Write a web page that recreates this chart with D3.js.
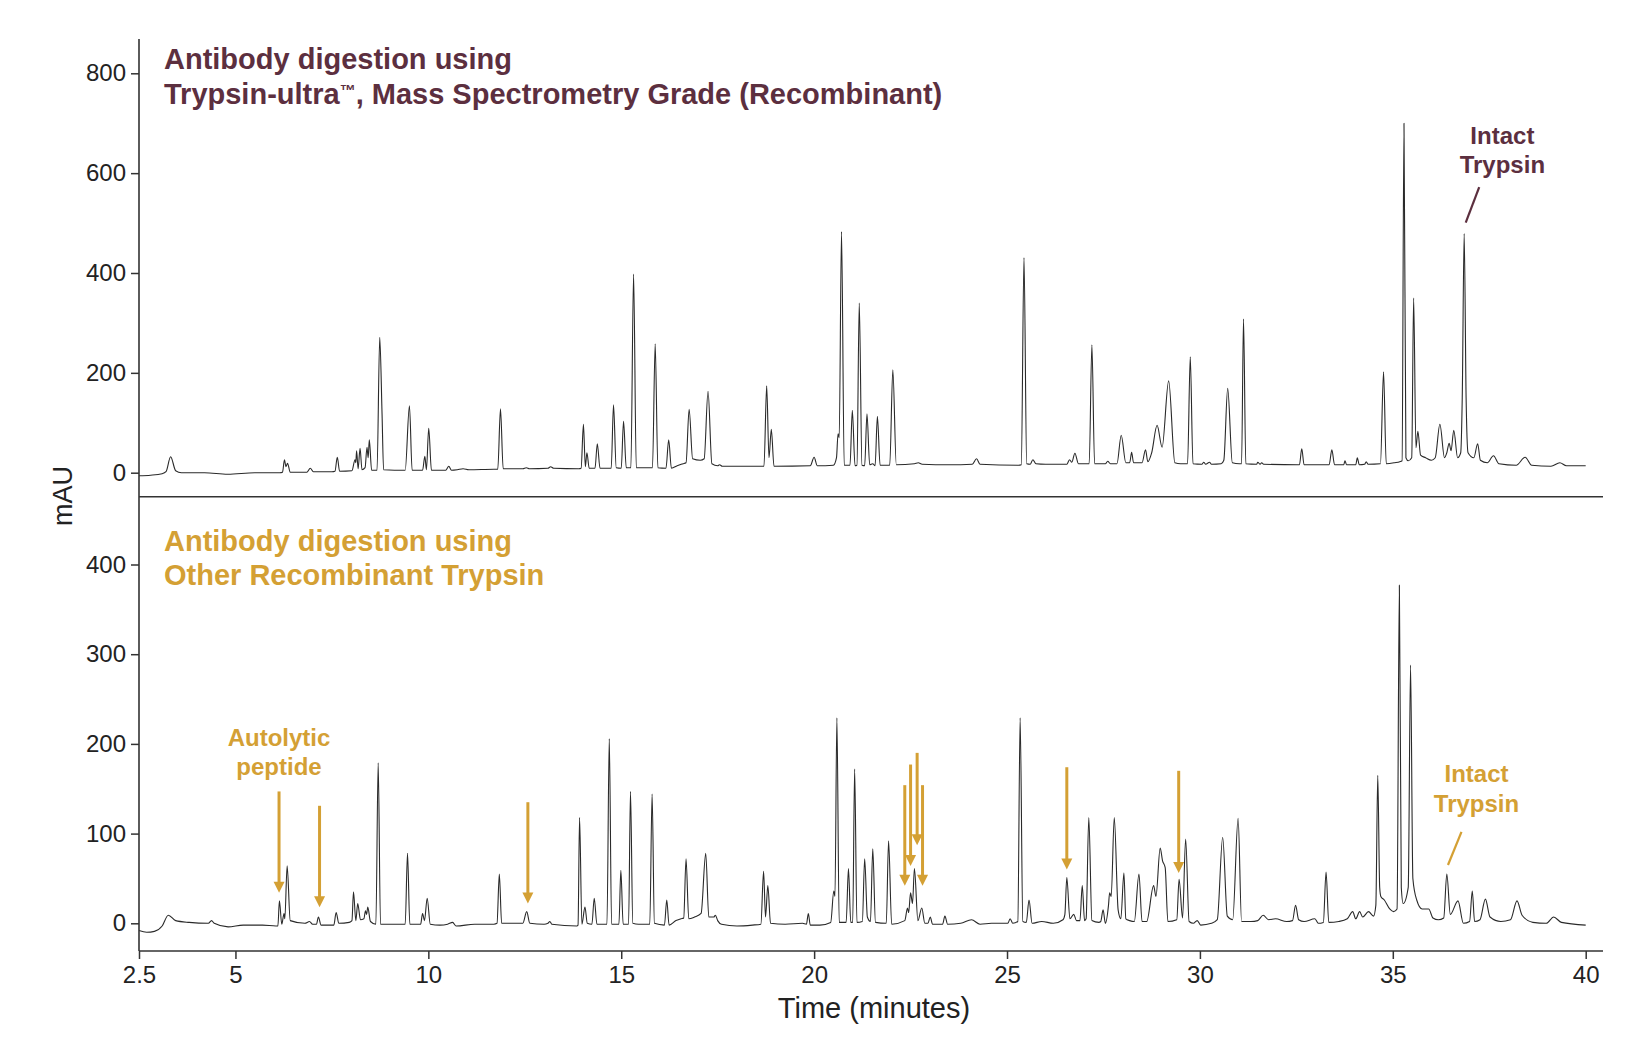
<!DOCTYPE html>
<html>
<head>
<meta charset="utf-8">
<script src="https://cdn.jsdelivr.net/npm/d3@7"></script>
<style>
  body { margin: 0; background: #fff; }
  svg text { font-family: "Liberation Sans", Arial, Helvetica, sans-serif; }
</style>
</head>
<body>
<div id="chart"></div>
<script>
// 刻度
const X_TICKS = [2.5, 5, 10, 15, 20, 25, 30, 35, 40];
const TOP_TICKS = [0, 200, 400, 600, 800];
const BOTTOM_TICKS = [0, 100, 200, 300, 400];

// Trypsin-ultra 色谱 [时间(min), mAU]
const TOP_TRACE = [
  [2.50,-6],[2.80,-5],[3.10,-2],[3.20,2],[3.32,32],[3.45,4],[3.60,0],[4.20,0],[4.80,-3],[5.50,0],[6.15,0],
  [6.22,1],[6.27,26],[6.31,12],[6.35,19],[6.42,1],[6.85,1],[6.94,9],[7.02,2],[7.50,2],
  [7.58,3],[7.64,31],[7.70,3],[8.02,4],[8.10,26],[8.12,20],[8.14,44],[8.18,8],[8.23,49],[8.28,6],
  [8.36,10],[8.41,51],[8.44,30],[8.47,66],[8.53,5],[8.67,5],[8.74,271],[8.80,118],[8.84,6],
  [9.40,5],[9.51,134],[9.58,5],[9.85,5],[9.91,33],[9.95,6],[10.01,89],[10.08,5],
  [10.45,5],[10.53,13],[10.60,5],[10.75,6],[10.90,8],[11.05,6],[11.70,7],
  [11.80,7],[11.87,128],[11.94,8],[12.45,8],[12.54,10],[12.62,8],[13.10,9],[13.17,12],[13.25,9],[13.90,8],
  [13.96,9],[14.02,97],[14.07,12],[14.11,40],[14.17,9],[14.32,9],[14.38,58],[14.45,9],
  [14.74,9],[14.80,136],[14.87,10],[15.00,9],[15.06,103],[15.13,10],[15.25,10],[15.32,398],[15.39,10],
  [15.81,10],[15.88,258],[15.95,10],[16.16,9],[16.23,66],[16.30,9],[16.45,14],[16.60,18],
  [16.68,20],[16.76,127],[16.85,28],[17.05,25],[17.15,28],[17.25,163],[17.35,18],[17.50,14],[17.55,16],[17.62,13],[18.60,13],
  [18.70,13],[18.77,174],[18.83,30],[18.89,87],[18.96,13],[19.90,14],[20.00,31],[20.08,14],[20.50,15],
  [20.58,30],[20.62,78],[20.65,70],[20.71,483],[20.78,15],[20.93,15],[20.99,125],[21.06,14],
  [21.11,15],[21.17,340],[21.24,15],[21.31,14],[21.37,118],[21.44,16],[21.52,18],[21.58,14],[21.64,113],[21.71,15],
  [21.96,15],[22.04,206],[22.13,16],[22.60,18],[22.70,20],[22.80,17],[23.50,16],[24.10,17],[24.21,28],[24.30,17],[25.30,15],
  [25.37,16],[25.44,431],[25.51,18],[25.60,17],[25.67,26],[25.75,18],[26.00,17],[26.55,17],[26.62,26],[26.68,21],[26.76,39],[26.85,18],
  [27.13,18],[27.20,256],[27.27,18],[27.55,18],[27.61,23],[27.68,18],[27.85,18],[27.96,75],[28.08,20],
  [28.18,20],[28.23,41],[28.28,20],[28.50,20],[28.59,46],[28.65,22],[28.75,40],[28.89,95],[29.02,51],[29.19,184],[29.35,20],[29.50,18],
  [29.68,18],[29.75,232],[29.82,18],[30.05,17],[30.10,21],[30.15,17],[30.25,21],[30.30,17],[30.55,18],
  [30.62,25],[30.72,169],[30.84,20],[31.02,18],[31.08,18],[31.13,308],[31.19,18],
  [31.47,17],[31.50,21],[31.56,17],[31.60,20],[31.65,17],[32.55,16],[32.58,16],[32.64,48],[32.70,16],
  [33.35,16],[33.42,46],[33.49,16],[33.73,16],[33.76,24],[33.80,16],[34.04,16],[34.08,30],[34.13,16],[34.27,17],[34.31,22],[34.36,17],[34.68,18],
  [34.76,202],[34.83,18],[35.05,20],[35.18,22],[35.24,24],[35.29,700],[35.34,30],[35.40,24],
  [35.49,30],[35.54,350],[35.60,50],[35.65,83],[35.72,35],[35.85,30],[36.00,25],[36.10,30],
  [36.22,97],[36.34,30],[36.40,40],[36.46,59],[36.51,44],[36.58,85],[36.68,30],
  [36.76,40],[36.80,150],[36.85,479],[36.90,150],[36.95,40],[37.10,30],[37.20,58],[37.27,25],[37.45,20],
  [37.61,34],[37.75,18],[38.20,15],[38.43,31],[38.60,15],[39.10,13],[39.33,20],[39.50,14],[40.00,14]
];

// 其他重组胰蛋白酶 色谱 [时间(min), mAU]
const BOTTOM_TRACE = [
  [2.50,-8],[2.70,-10],[2.90,-9],[3.10,-3],[3.26,9],[3.45,3],[3.80,1],[4.30,0],[4.38,3],[4.45,0],[4.81,-4],[5.20,-2],[5.70,-2],[6.05,-3],
  [6.10,-3],[6.14,25],[6.20,-1],[6.26,11],[6.28,5],[6.34,64],[6.42,3],[6.80,0],[6.92,2],[7.00,-1],[7.10,-1],[7.15,7],[7.22,-2],
  [7.55,-2],[7.61,12],[7.68,0],[7.95,1],[8.02,3],[8.06,35],[8.12,3],[8.17,22],[8.24,4],[8.33,5],[8.37,14],[8.40,10],[8.43,18],[8.50,2],
  [8.64,-1],[8.70,179],[8.76,-1],[9.40,-1],[9.46,78],[9.52,-1],[9.80,-1],[9.85,11],[9.90,3],[9.97,28],[10.05,-1],
  [10.30,-2],[10.50,-1],[10.63,1],[10.72,-3],[11.20,-1],[11.70,-1],[11.78,0],[11.84,55],[11.90,0],
  [12.45,0],[12.55,13],[12.63,0],[13.00,-1],[13.10,0],[13.15,2],[13.20,-1],[13.85,-3],
  [13.88,-2],[13.92,118],[13.98,-1],[14.06,18],[14.12,0],[14.24,-1],[14.30,28],[14.37,-1],
  [14.63,-1],[14.69,206],[14.75,-1],[14.94,-1],[14.99,59],[15.05,-1],[15.19,-1],[15.24,147],[15.30,0],[15.45,-1],
  [15.74,-1],[15.80,144],[15.86,0],[16.12,-2],[16.18,26],[16.24,-2],[16.42,3],[16.55,5],
  [16.62,6],[16.68,72],[16.75,5],[16.90,7],[17.07,11],[17.19,78],[17.27,7],[17.40,7],[17.44,9],[17.50,3],[17.60,-1],[18.00,-3],[18.40,-2],[18.62,-1],
  [18.69,58],[18.74,7],[18.80,42],[18.87,0],[19.25,-1],[19.70,0],[19.80,-1],[19.85,11],[19.90,-2],[20.15,-2],[20.43,1],
  [20.51,36],[20.54,30],[20.59,229],[20.65,1],[20.83,1],[20.89,61],[20.95,1],[21.00,1],[21.05,172],[21.11,1],
  [21.25,2],[21.31,72],[21.38,7],[21.46,2],[21.52,83],[21.59,1],[21.87,0],[21.93,92],[22.01,-1],
  [22.35,3],[22.42,17],[22.45,12],[22.50,34],[22.55,22],[22.60,61],[22.69,3],[22.79,17],[22.87,0],[22.95,0],[23.01,7],[23.07,-1],
  [23.33,-1],[23.39,8],[23.46,-1],[23.80,0],[24.08,4],[24.30,-1],[24.60,0],[25.02,0],[25.08,5],[25.15,0],
  [25.28,2],[25.34,229],[25.41,2],[25.50,1],[25.57,26],[25.65,0],[25.90,2],[26.20,0],[26.45,4],[26.50,10],[26.55,51],[26.63,5],[26.73,10],[26.80,3],
  [26.89,3],[26.95,42],[27.01,3],[27.05,5],[27.12,118],[27.20,3],[27.38,1],[27.43,2],[27.49,15],[27.55,0],[27.63,20],[27.66,34],[27.70,30],[27.78,118],[27.88,15],[27.95,5],
  [28.03,56],[28.08,5],[28.18,3],[28.30,2],[28.42,55],[28.50,2],[28.62,2],[28.80,42],[28.86,30],[28.97,84],[29.03,70],[29.10,62],[29.17,2],
  [29.40,4],[29.46,49],[29.55,6],[29.63,94],[29.72,2],[29.83,0],[29.93,3],[30.02,-2],[30.30,0],[30.45,4],
  [30.59,96],[30.71,8],[30.85,4],[30.99,117],[31.08,2],[31.32,2],[31.50,3],[31.64,9],[31.78,4],[31.96,5],[32.25,2],[32.40,3],
  [32.48,20],[32.56,4],[32.70,2],[32.98,5],[33.07,0],[33.20,1],[33.27,57],[33.34,1],[33.60,2],[33.82,5],
  [33.96,13],[34.04,5],[34.14,13],[34.22,7],[34.37,13],[34.50,8],[34.56,20],[34.61,165],[34.66,40],[34.69,30],[34.78,26],[34.92,16],[35.02,13],
  [35.11,16],[35.17,377],[35.22,40],[35.27,22],[35.40,40],[35.46,288],[35.52,50],[35.62,26],[35.76,16],[35.93,16],[36.04,6],[36.18,4],[36.32,6],
  [36.40,55],[36.49,10],[36.69,25],[36.83,0],[36.99,2],[37.06,36],[37.12,2],[37.26,4],
  [37.40,27],[37.52,7],[37.80,2],[38.05,4],[38.22,25],[38.35,9],[38.63,1],[38.98,0],[39.17,7],[39.37,1],[40.00,-2]
];

// 自溶肽箭头 (时间, 起点 mAU, 箭尖 mAU)
const ARROW_T    = [6.13, 7.18, 12.58, 22.35, 22.50, 22.67, 22.81, 26.55, 29.45];
const ARROW_FROM = [147, 131, 135, 154, 177, 190, 154, 174, 170];
const ARROW_TO   = [34, 18, 22, 42, 64, 87, 42, 60, 56];

const TITLE_TOP = ["Antibody digestion using", "Trypsin-ultra", "™", ", Mass Spectrometry Grade (Recombinant)"];
const TITLE_BOTTOM = ["Antibody digestion using", "Other Recombinant Trypsin"];

const MAROON = "#5c2f3f";
const GOLD = "#d4a034";
const INK = "#222";

const W = 1650, H = 1050;
const svg = d3.select("#chart").append("svg").attr("width", W).attr("height", H);

const AXIS_X = 139, AXIS_TOP = 39, AXIS_BOTTOM = 951, SPLIT_Y = 496.7, RIGHT_END = 1603;

const x = d3.scaleLinear().domain([2.5, 40]).range([AXIS_X, 1585.7]);
const yTop = d3.scaleLinear().domain([0, 800]).range([472.7, 73.3]);
const yBot = d3.scaleLinear().domain([0, 400]).range([923.3, 564.5]);

// 色谱曲线
const lineTop = d3.line().x(d => x(d[0])).y(d => yTop(d[1])).curve(d3.curveMonotoneX);
const lineBot = d3.line().x(d => x(d[0])).y(d => yBot(d[1])).curve(d3.curveMonotoneX);

svg.append("path").datum(TOP_TRACE)
  .attr("fill", "none").attr("stroke", "#2a2a2a").attr("stroke-width", 1.1)
  .attr("stroke-linejoin", "round").attr("d", lineTop);
svg.append("path").datum(BOTTOM_TRACE)
  .attr("fill", "none").attr("stroke", "#2a2a2a").attr("stroke-width", 1.1)
  .attr("stroke-linejoin", "round").attr("d", lineBot);

// 坐标轴
function styleAxis(g) {
  g.select(".domain").remove();
  g.selectAll(".tick line").attr("stroke", "#333").attr("stroke-width", 1.5);
  g.selectAll(".tick text").attr("fill", INK).style("font-size", "24px");
}

svg.append("g").attr("transform", `translate(${AXIS_X},0)`)
  .call(d3.axisLeft(yTop).tickValues(TOP_TICKS).tickSize(8).tickPadding(5))
  .call(styleAxis);
svg.append("g").attr("transform", `translate(${AXIS_X},0)`)
  .call(d3.axisLeft(yBot).tickValues(BOTTOM_TICKS).tickSize(8).tickPadding(5))
  .call(styleAxis);
svg.append("g").attr("transform", `translate(0,${AXIS_BOTTOM})`)
  .call(d3.axisBottom(x).tickValues(X_TICKS).tickFormat(d => d).tickSize(8).tickPadding(7))
  .call(styleAxis);

svg.append("line").attr("x1", AXIS_X).attr("x2", AXIS_X).attr("y1", AXIS_TOP).attr("y2", AXIS_BOTTOM)
  .attr("stroke", "#333").attr("stroke-width", 1.6);
svg.append("line").attr("x1", AXIS_X).attr("x2", RIGHT_END).attr("y1", AXIS_BOTTOM).attr("y2", AXIS_BOTTOM)
  .attr("stroke", "#333").attr("stroke-width", 1.6);
svg.append("line").attr("x1", AXIS_X).attr("x2", RIGHT_END).attr("y1", SPLIT_Y).attr("y2", SPLIT_Y)
  .attr("stroke", "#333").attr("stroke-width", 1.6);

// 轴标题
svg.append("text").attr("transform", "translate(72,496) rotate(-90)")
  .attr("text-anchor", "middle").attr("fill", INK).style("font-size", "27px").text("mAU");
svg.append("text").attr("x", 874).attr("y", 1018)
  .attr("text-anchor", "middle").attr("fill", INK).style("font-size", "29px").text("Time (minutes)");

// 面板标题
const t1 = svg.append("text").attr("fill", MAROON).style("font-size", "29px").style("font-weight", "bold");
t1.append("tspan").attr("x", 164).attr("y", 69).text(TITLE_TOP[0]);
t1.append("tspan").attr("x", 164).attr("y", 104).text(TITLE_TOP[1]);
t1.append("tspan").attr("dy", -8).style("font-size", "16px").text(TITLE_TOP[2]);
t1.append("tspan").attr("dy", 8).text(TITLE_TOP[3]);

const t2 = svg.append("text").attr("fill", GOLD).style("font-size", "29px").style("font-weight", "bold");
t2.append("tspan").attr("x", 164).attr("y", 551).text(TITLE_BOTTOM[0]);
t2.append("tspan").attr("x", 164).attr("y", 585).text(TITLE_BOTTOM[1]);

// 标注
function note(lines, t, vs, yScale, color) {
  const g = svg.append("text").attr("fill", color).attr("text-anchor", "middle")
    .style("font-size", "24px").style("font-weight", "bold");
  lines.forEach((s, i) => g.append("tspan").attr("x", x(t)).attr("y", yScale(vs[i])).text(s));
}
function pointer(a, b, yScale, color) {
  svg.append("line")
    .attr("x1", x(a[0])).attr("y1", yScale(a[1]))
    .attr("x2", x(b[0])).attr("y2", yScale(b[1]))
    .attr("stroke", color).attr("stroke-width", 2.2);
}

note(["Intact", "Trypsin"], 37.84, [658, 600], yTop, MAROON);
pointer([37.24, 572], [36.89, 501], yTop, MAROON);

note(["Intact", "Trypsin"], 37.17, [157, 124], yBot, GOLD);
pointer([36.78, 102], [36.43, 65], yBot, GOLD);

note(["Autolytic", "peptide"], 6.13, [198, 165], yBot, GOLD);

// 箭头
ARROW_T.forEach((t, i) => {
  const ax = x(t), y0 = yBot(ARROW_FROM[i]), y1 = yBot(ARROW_TO[i]);
  svg.append("line").attr("x1", ax).attr("x2", ax).attr("y1", y0).attr("y2", y1 - 9)
    .attr("stroke", GOLD).attr("stroke-width", 3);
  svg.append("path")
    .attr("d", `M${ax - 5.5},${y1 - 11}L${ax + 5.5},${y1 - 11}L${ax},${y1}Z`)
    .attr("fill", GOLD);
});
</script>
</body>
</html>
